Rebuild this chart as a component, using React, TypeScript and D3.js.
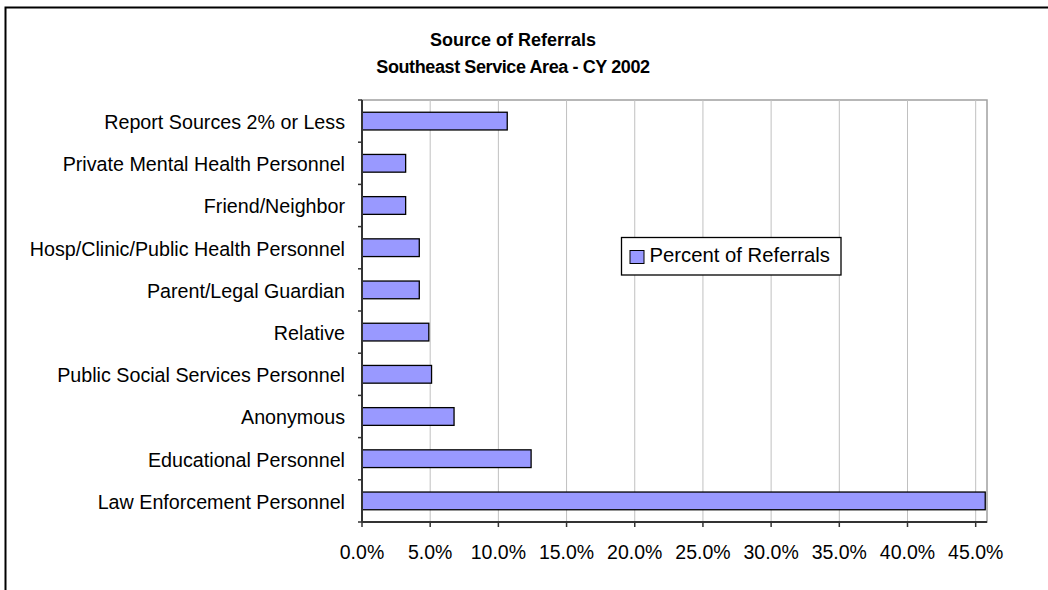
import React from "react";
import * as d3 from "d3";

// categories listed bottom to top as in the chart
const categories = [
  "Law Enforcement Personnel",
  "Educational Personnel",
  "Anonymous",
  "Public Social Services Personnel",
  "Relative",
  "Parent/Legal Guardian",
  "Hosp/Clinic/Public Health Personnel",
  "Friend/Neighbor",
  "Private Mental Health Personnel",
  "Report Sources 2% or Less",
];
const percentOfReferrals = [45.7, 12.4, 6.75, 5.1, 4.9, 4.2, 4.2, 3.2, 3.2, 10.65];
const xTicks = [0, 5, 10, 15, 20, 25, 30, 35, 40, 45];
const titleLines = ["Source of Referrals", "Southeast Service Area - CY 2002"];
const seriesName = "Percent of Referrals";

const W = 1048;
const H = 590;
const plot = { left: 362, right: 987, top: 100, bottom: 522 };
const font = "'Liberation Sans', Arial, sans-serif";

export default function App() {
  const x = d3.scaleLinear().domain([0, 45.83]).range([plot.left, plot.right]);
  const y = d3
    .scaleBand<string>()
    .domain([...categories].reverse())
    .range([plot.top, plot.bottom])
    .paddingInner(0.58)
    .paddingOuter(0.29);
  const step = y.step();

  return (
    <svg
      width={W}
      height={H}
      style={{ position: "absolute", left: 0, top: 0, background: "#fff" }}
      fontFamily={font}
    >
      {/* outer chart border */}
      <rect x={5.5} y={7.5} width={W} height={H} fill="none" stroke="#000" strokeWidth={2} />

      {titleLines.map((t, i) => (
        <text
          key={t}
          x={513}
          y={45.5 + i * 27.5}
          textAnchor="middle"
          fontWeight="bold"
          fontSize={18}
          letterSpacing={i === 0 ? "0" : "-0.4"}
        >
          {t}
        </text>
      ))}

      {/* plot area border */}
      <rect
        x={plot.left}
        y={plot.top}
        width={plot.right - plot.left}
        height={plot.bottom - plot.top}
        fill="#fff"
        stroke="#a0a0a0"
        strokeWidth={1.5}
      />

      {/* vertical gridlines */}
      {xTicks.slice(1).map((t) => (
        <line
          key={t}
          x1={x(t)}
          x2={x(t)}
          y1={plot.top}
          y2={plot.bottom}
          stroke="#c0c0c0"
          strokeWidth={1}
        />
      ))}

      {/* bars */}
      {categories.map((c, i) => (
        <rect
          key={c}
          x={x(0)}
          y={y(c)!}
          width={x(percentOfReferrals[i]) - x(0)}
          height={y.bandwidth()}
          fill="#9999FF"
          stroke="#000"
          strokeWidth={1.3}
        />
      ))}

      {/* y axis */}
      <line x1={plot.left} x2={plot.left} y1={plot.top} y2={plot.bottom} stroke="#333" strokeWidth={2} />
      {d3.range(categories.length + 1).map((i) => (
        <line
          key={i}
          x1={plot.left - 4}
          x2={plot.left}
          y1={plot.top + i * step}
          y2={plot.top + i * step}
          stroke="#333"
          strokeWidth={1.5}
        />
      ))}
      {categories.map((c) => (
        <text
          key={c}
          x={345}
          y={y(c)! + y.bandwidth() / 2}
          dy="0.4em"
          textAnchor="end"
          fontSize={19.7}
        >
          {c}
        </text>
      ))}

      {/* x axis */}
      <line x1={plot.left} x2={plot.right} y1={plot.bottom} y2={plot.bottom} stroke="#333" strokeWidth={2} />
      {xTicks.map((t) => (
        <g key={t}>
          <line x1={x(t)} x2={x(t)} y1={plot.bottom} y2={plot.bottom + 5} stroke="#333" strokeWidth={1.5} />
          <text x={x(t)} y={558.5} textAnchor="middle" fontSize={19.5}>
            {t.toFixed(1)}%
          </text>
        </g>
      ))}

      {/* legend */}
      <g transform="translate(621.5,237.5)">
        <rect width={219.5} height={37.5} fill="#fff" stroke="#000" strokeWidth={1.3} />
        <rect x={8.5} y={13} width={14} height={13} fill="#9999FF" stroke="#000" strokeWidth={1} />
        <text x={28} y={24.5} fontSize={20.3}>
          {seriesName}
        </text>
      </g>
    </svg>
  );
}
